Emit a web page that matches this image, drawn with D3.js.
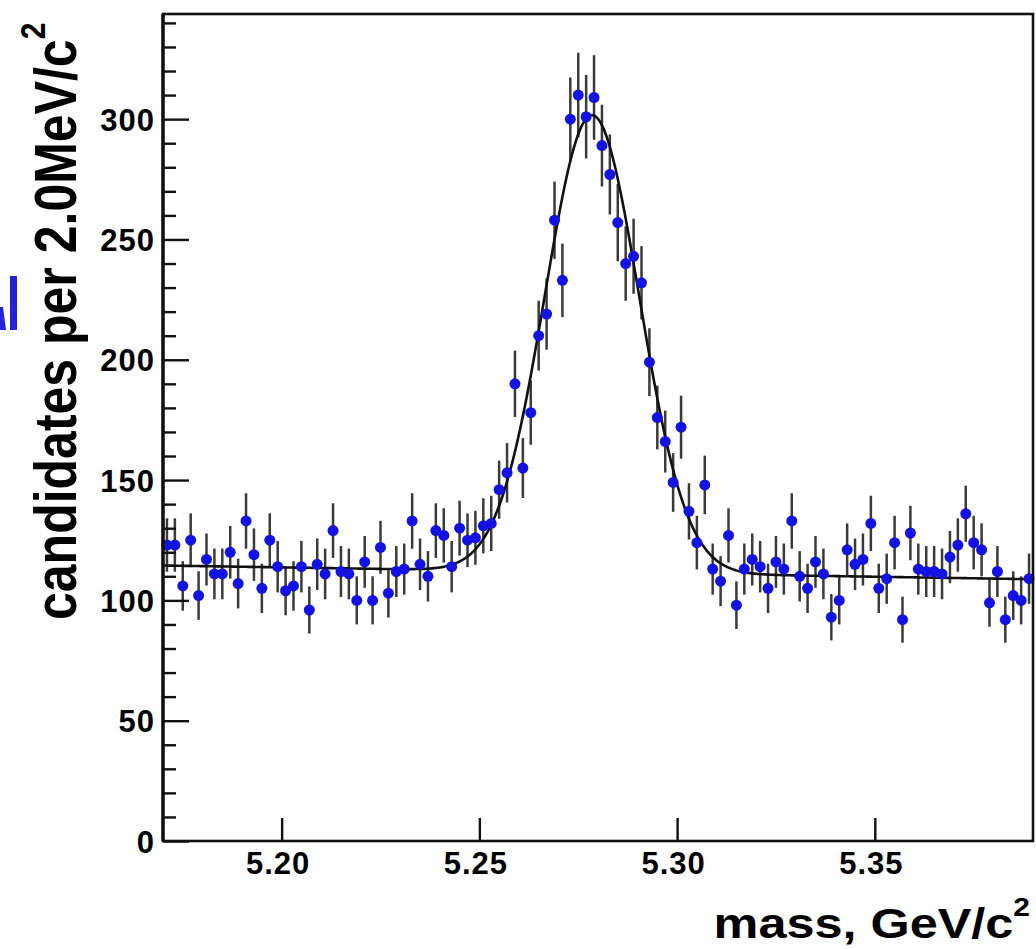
<!DOCTYPE html>
<html>
<head>
<meta charset="utf-8">
<script src="https://cdn.jsdelivr.net/npm/d3@7/dist/d3.min.js"></script>
<style>
  html, body { margin: 0; padding: 0; background: #ffffff; }
  svg { display: block; }
  text { font-family: "Liberation Sans", Arial, Helvetica, sans-serif; font-weight: bold; fill: #000; }
</style>
</head>
<body>
<svg id="chart" width="1036" height="949"></svg>
<script>
// ---- data ----
const massBins = [
  5.171, 5.173, 5.175, 5.177, 5.179, 5.181, 5.183, 5.185, 5.187, 5.189,
  5.191, 5.193, 5.195, 5.197, 5.199, 5.201, 5.203, 5.205, 5.207, 5.209,
  5.211, 5.213, 5.215, 5.217, 5.219, 5.221, 5.223, 5.225, 5.227, 5.229,
  5.231, 5.233, 5.235, 5.237, 5.239, 5.241, 5.243, 5.245, 5.247, 5.249,
  5.251, 5.253, 5.255, 5.257, 5.259, 5.261, 5.263, 5.265, 5.267, 5.269,
  5.271, 5.273, 5.275, 5.277, 5.279, 5.281, 5.283, 5.285, 5.287, 5.289,
  5.291, 5.293, 5.295, 5.297, 5.299, 5.301, 5.303, 5.305, 5.307, 5.309,
  5.311, 5.313, 5.315, 5.317, 5.319, 5.321, 5.323, 5.325, 5.327, 5.329,
  5.331, 5.333, 5.335, 5.337, 5.339, 5.341, 5.343, 5.345, 5.347, 5.349,
  5.351, 5.353, 5.355, 5.357, 5.359, 5.361, 5.363, 5.365, 5.367, 5.369,
  5.371, 5.373, 5.375, 5.377, 5.379, 5.381, 5.383, 5.385, 5.387, 5.389
];
const counts = [
  123, 123, 106, 125, 102, 117, 111, 111, 120, 107,
  133, 119, 105, 125, 114, 104, 106, 114,  96, 115,
  111, 129, 112, 111, 100, 116, 100, 122, 103, 112,
  113, 133, 115, 110, 129, 127, 114, 130, 125, 126,
  131, 132, 146, 153, 190, 155, 178, 210, 219, 258,
  233, 300, 310, 301, 309, 289, 277, 257, 240, 243,
  232, 199, 176, 166, 149, 172, 137, 124, 148, 113,
  108, 127,  98, 113, 117, 114, 105, 116, 113, 133,
  110, 105, 116, 111,  93, 100, 121, 115, 117, 132,
  105, 109, 124,  92, 128, 113, 112, 112, 111, 118,
  123, 136, 124, 121,  99, 112,  92, 102, 100, 109
];
const yMajorTicks = [0, 50, 100, 150, 200, 250, 300];
const yMinorTicks = [10,20,30,40,60,70,80,90,110,120,130,140,160,170,180,190,210,220,230,240,260,270,280,290,310,320,330,340];
const xTickValues = [5.20, 5.25, 5.30, 5.35];
const xTickLabels = ["5.20", "5.25", "5.30", "5.35"];
const xDomain = [5.17, 5.39];
const yDomain = [0, 343.7];
// fit: gaussian signal on a linear background
const fitMean = 5.2785, fitSigma = 0.0119, fitAmp = 190;
const fitBgAtMin = 114.5, fitBgAtMax = 108.8;

// ---- drawing ----
const svg = d3.select("#chart");
const L = 163, R = 1033, T = 14, B = 841;
const x = d3.scaleLinear().domain(xDomain).range([L, R]);
const y = d3.scaleLinear().domain(yDomain).range([B, T]);

// stray blue fragment at the left edge (slide remnant, not text)
svg.append("rect").attr("x", 10).attr("y", 276).attr("width", 7).attr("height", 54).attr("fill", "#2323dc");
svg.append("polygon").attr("points", "0,307 3,307 6,330 0,330").attr("fill", "#2323dc");

// error bars (Poisson)
const bars = svg.append("g");
massBins.forEach((m, i) => {
  const n = counts[i], e = Math.sqrt(n);
  bars.append("line")
    .attr("x1", x(m)).attr("x2", x(m))
    .attr("y1", y(n - e)).attr("y2", y(n + e))
    .attr("stroke", "#3a3a3a").attr("stroke-width", 2.5);
});

// fit curve
const fitPts = d3.range(xDomain[0], xDomain[1] + 1e-9, 0.0005).map(m => {
  const bg = fitBgAtMin + (fitBgAtMax - fitBgAtMin) * (m - xDomain[0]) / (xDomain[1] - xDomain[0]);
  const g = fitAmp * Math.exp(-0.5 * Math.pow((m - fitMean) / fitSigma, 2));
  return [m, bg + g];
});
svg.append("path")
  .datum(fitPts)
  .attr("d", d3.line().x(d => x(d[0])).y(d => y(d[1])))
  .attr("fill", "none").attr("stroke", "#111").attr("stroke-width", 2.6);

// data points
svg.append("g").selectAll("circle").data(massBins).join("circle")
  .attr("cx", d => x(d)).attr("cy", (d, i) => y(counts[i]))
  .attr("r", 5.5).attr("fill", "#1212e2");

// y axis minor ticks
svg.append("g").attr("transform", `translate(${L},0)`)
  .call(d3.axisLeft(y).tickValues(yMinorTicks).tickSize(-13).tickFormat(""))
  .call(g => g.select(".domain").remove())
  .call(g => g.selectAll("line").attr("stroke", "#111").attr("stroke-width", 2.4));

// y axis major ticks + labels
svg.append("g").attr("transform", `translate(${L},0)`)
  .call(d3.axisLeft(y).tickValues(yMajorTicks).tickSize(-26).tickPadding(8).tickFormat(d3.format("d")))
  .call(g => g.select(".domain").remove())
  .call(g => g.selectAll("line").attr("stroke", "#111").attr("stroke-width", 2.4))
  .call(g => g.selectAll("text").attr("font-size", 31).attr("font-family", "Liberation Sans, Arial, sans-serif")
      .attr("font-weight", "bold").attr("fill", "#000").attr("dy", "0.36em").style("letter-spacing", "1px"));

// x axis ticks + labels
svg.append("g").attr("transform", `translate(0,${B})`)
  .call(d3.axisBottom(x).tickValues(xTickValues).tickSize(-23).tickPadding(11)
        .tickFormat((d, i) => xTickLabels[i]))
  .call(g => g.select(".domain").remove())
  .call(g => g.selectAll("line").attr("stroke", "#111").attr("stroke-width", 2.4))
  .call(g => g.selectAll("text").attr("font-size", 31).attr("font-family", "Liberation Sans, Arial, sans-serif")
      .attr("font-weight", "bold").attr("fill", "#000").attr("dx", -4).style("letter-spacing", "1px"));

// frame
svg.append("rect").attr("x", L).attr("y", T).attr("width", R - L).attr("height", B - T)
  .attr("fill", "none").attr("stroke", "#111").attr("stroke-width", 2.6);
svg.append("line").attr("x1", L).attr("x2", L).attr("y1", T).attr("y2", B)
  .attr("stroke", "#111").attr("stroke-width", 3.4);

// x axis title (glyphs are horizontally widened in the original)
const xt = svg.append("text").attr("transform", "translate(1030,938) scale(1.2,1)")
  .attr("text-anchor", "end").attr("font-size", 42);
xt.append("tspan").text("mass, GeV/c");
xt.append("tspan").attr("font-size", 25).attr("dy", -22).text("2");

// y axis title
const yt = svg.append("text").attr("transform", "translate(76,620) scale(1.18,1) rotate(-90)").attr("font-size", 50);
yt.append("tspan").text("candidates per 2.0MeV/c");
yt.append("tspan").attr("font-size", 30).attr("dy", -26).text("2");
</script>
</body>
</html>
